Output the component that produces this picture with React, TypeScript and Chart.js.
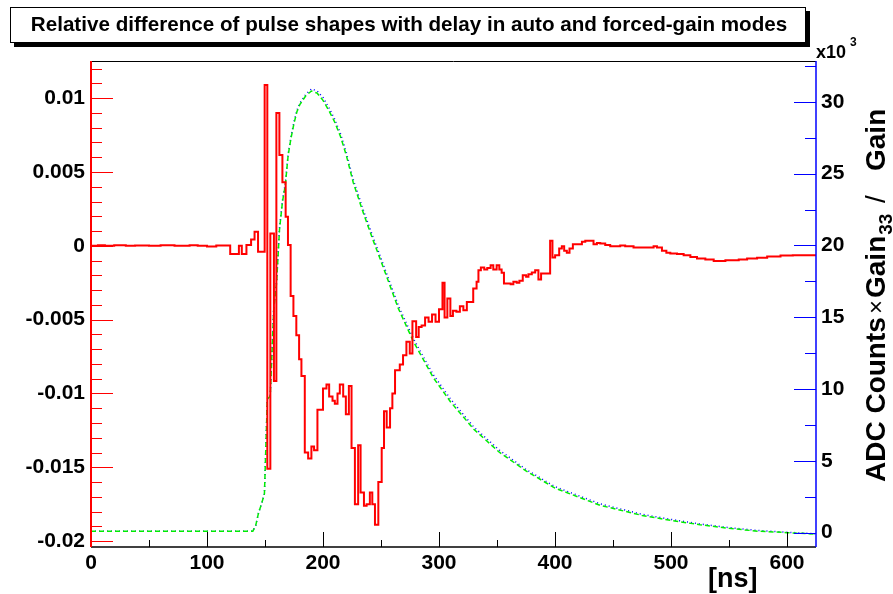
import { useEffect, useRef } from 'react';
import { Chart, registerables } from 'chart.js';

Chart.register(...registerables);

const FONT = '"Liberation Sans", Arial, Helvetica, sans-serif';
const TITLE = 'Relative difference of pulse shapes with delay in auto and forced-gain modes';

// Red histogram: bin start [ns] and relative difference (units of 1e-3)
const diffStartNs = [
  0, 6, 12, 20, 30, 38, 50, 60, 72, 85, 92, 100, 108, 112, 120, 127.5, 130, 134, 138, 141, 144,
  149.7, 152, 154.6, 157.7, 159.8, 162.4, 165, 167.8, 169.8, 172.1, 174.5, 177, 179.4, 181.4, 184.3,
  187.2, 190, 192.3, 195.2, 200, 203, 205.3, 208.2, 210.2, 212.5, 214.5, 217.4, 219.7, 222.3, 224.6,
  227.5, 230.3, 232.4, 235.3, 237.6, 240.4, 242.5, 244.8, 247.7, 250.6, 252.6, 254.9, 257.8, 259.8,
  262.1, 266.2, 269, 271.9, 274.8, 277.1, 280.3, 282.5, 285, 288, 291, 294, 297, 300, 303, 304.8,
  307.2, 309.8, 312, 315, 318, 321, 324, 329.5, 332.4, 334, 336.1, 339, 341.6, 344.5, 346.8, 349.7,
  352, 354, 356, 361.8, 364.1, 367, 369.3, 372.2, 375.1, 377.1, 380, 382.9, 385.7, 388, 395.8, 397.8,
  400.1, 403.6, 405.9, 407.9, 410.2, 412.5, 415.4, 423.2, 426.1, 433.2, 436.1, 439, 443.3, 447.6,
  456.2, 460.5, 467.7, 485, 487.9, 492.2, 496, 499.4, 505.2, 510.9, 516.7, 522.4, 529.6, 536.8,
  546.9, 558.4, 565.6, 574.2, 582.9, 594.4, 605, 615, 625,
];
const diffE3 = [
  0.03, 0.0, 0.04, 0.01, 0.04, 0.0, 0.03, 0.0, 0.04, 0.0, 0.04, 0.01, -0.05, 0.02, 0.03, -0.56, 0.0,
  -0.56, 0.05, 0.43, 0.95, -0.4, 10.9, -15.1, 0.84, -9.15, 9.0, 6.15, 4.3, 1.97, 0.05, -3.39, -4.75,
  -6.05, -7.68, -8.81, -14.0, -14.4, -13.6, -13.85, -11.1, -9.67, -9.4, -10.2, -10.5, -10.7, -10.0,
  -9.4, -10.2, -11.4, -9.5, -13.7, -17.5, -13.5, -16.7, -17.6, -17.5, -16.7, -17.5, -18.9, -16.0,
  -13.7, -11.2, -12.3, -11.0, -10.0, -8.43, -8.04, -7.41, -6.5, -7.3, -5.1, -6.17, -5.5, -5.4,
  -4.85, -5.15, -4.65, -5.15, -4.3, -2.5, -4.85, -3.57, -4.75, -4.4, -4.47, -4.1, -4.36, -3.8,
  -2.89, -2.44, -1.65, -1.47, -1.6, -1.5, -1.31, -1.6, -1.31, -1.6, -1.83, -2.55, -2.6, -2.44,
  -2.5, -2.36, -1.99, -2.1, -1.93, -1.8, -1.65, -2.28, -1.88, 0.34, -0.79, -0.63, -0.18, -0.02,
  -0.34, -0.47, -0.18, 0.11, 0.27, 0.34, 0.11, 0.2, 0.16, 0.05, -0.02, 0.02, -0.02, -0.11, -0.02,
  -0.11, -0.34, -0.47, -0.52, -0.56, -0.63, -0.75, -0.86, -0.93, -1.02, -0.97, -0.93, -0.86, -0.81,
  -0.72, -0.66, -0.63, -0.63,
];

// Pulse shapes: time [ns] and ADC counts x Gain33/Gain (units of 1e3)
const pulseNs = [
  0, 139.5, 142, 144.5, 147, 149.5, 152, 154.5, 157.5, 160, 162.5, 165, 167.5, 170, 172.5, 175,
  177.5, 180, 185, 190, 195, 200, 205, 210, 215, 220, 226, 235, 243, 250, 265, 278, 295, 310, 330,
  352, 375, 400, 439, 475, 500, 525, 550, 575, 600, 625,
];
const pulseGreenK = [
  0.1, 0.1, 0.5, 1.4, 2.0, 2.7, 9.3, 9.5, 15.5, 17.4, 21.1, 23.0, 24.2, 26.3, 27.5, 28.5, 29.3,
  29.8, 30.4, 30.75, 30.6, 30.1, 29.4, 28.6, 27.6, 26.3, 24.4, 22.2, 20.4, 18.9, 15.6, 13.3, 10.8,
  9.1, 7.2, 5.6, 4.3, 3.1, 1.9, 1.2, 0.85, 0.55, 0.3, 0.1, 0.0, -0.1,
];
const pulseBlueK = [
  0.1, 0.1, 0.5, 1.4, 2.0, 2.7, 9.3, 9.6, 15.6, 17.5, 21.2, 23.1, 24.3, 26.4, 27.6, 28.6, 29.4,
  29.9, 30.5, 30.9, 30.75, 30.3, 29.6, 28.8, 27.8, 26.5, 24.6, 22.4, 20.6, 19.1, 15.8, 13.5, 11.0,
  9.3, 7.35, 5.75, 4.4, 3.2, 2.0, 1.28, 0.92, 0.6, 0.35, 0.15, 0.03, -0.08,
];

const xTickValues = [0, 100, 200, 300, 400, 500, 600];
const leftTickValues = [-0.02, -0.015, -0.01, -0.005, 0, 0.005, 0.01];
const rightTickValues = [0, 5, 10, 15, 20, 25, 30];

function fmtLeft(v: number): string {
  const r = parseFloat(v.toFixed(3));
  if (Math.abs(r) < 1e-9) return '0';
  return String(r);
}

const rootDeco = {
  id: 'rootDeco',
  afterDraw(chart: any) {
    const { ctx, chartArea: a, scales } = chart;
    const xs = scales.x;
    const yl = scales.y;
    const yr = scales.y2;
    ctx.save();

    const seg = (x1: number, y1: number, x2: number, y2: number) => {
      ctx.beginPath();
      ctx.moveTo(x1, y1);
      ctx.lineTo(x2, y2);
      ctx.stroke();
    };

    // left axis ticks (red)
    ctx.strokeStyle = '#ff0000';
    ctx.lineWidth = 1;
    for (let i = -20; i <= 12; i++) {
      const py = Math.round(yl.getPixelForValue(i / 1000)) + 0.5;
      if (py < a.top || py > a.bottom) continue;
      seg(a.left, py, a.left + (i % 5 === 0 ? 22 : 11), py);
    }
    // right axis ticks (blue)
    ctx.strokeStyle = '#0000ff';
    for (let i = 0; i <= 13; i++) {
      const py = Math.round(yr.getPixelForValue(i * 2.5)) + 0.5;
      if (py < a.top || py > a.bottom) continue;
      seg(a.right, py, a.right - (i % 2 === 0 ? 22 : 11), py);
    }
    // x ticks (black)
    ctx.strokeStyle = '#000';
    for (let i = 0; i <= 12; i++) {
      const px = Math.round(xs.getPixelForValue(i * 50)) + 0.5;
      if (px < a.left || px > a.right) continue;
      seg(px, a.bottom, px, a.bottom - (i % 2 === 0 ? 15 : 7));
    }

    // frame
    ctx.strokeStyle = '#000';
    ctx.lineWidth = 1;
    seg(a.left, a.top + 0.5, a.right, a.top + 0.5);
    ctx.lineWidth = 1.5;
    seg(a.left, a.bottom, a.right, a.bottom);
    ctx.strokeStyle = '#ff0000';
    ctx.lineWidth = 2;
    seg(a.left, a.top, a.left, a.bottom);
    ctx.strokeStyle = '#0000ff';
    ctx.lineWidth = 1.5;
    seg(a.right, a.top, a.right, a.bottom);

    // title box with shadow
    ctx.fillStyle = '#000';
    ctx.fillRect(14, 11, 796, 36);
    ctx.fillStyle = '#fff';
    ctx.fillRect(10, 7, 796, 36);
    ctx.strokeStyle = '#000';
    ctx.lineWidth = 1;
    ctx.strokeRect(10.5, 7.5, 795, 35);
    ctx.fillStyle = '#000';
    ctx.font = `bold 17px ${FONT}`;
    const w = ctx.measureText(TITLE).width;
    const fs = 17 * 757 / w;
    ctx.font = `bold ${fs.toFixed(2)}px ${FONT}`;
    ctx.textAlign = 'center';
    ctx.textBaseline = 'middle';
    ctx.fillText(TITLE, 409, 25);

    // x10^3
    ctx.textAlign = 'left';
    ctx.textBaseline = 'alphabetic';
    ctx.font = `bold 18px ${FONT}`;
    ctx.fillText('x10', 816, 58);
    ctx.font = `bold 12px ${FONT}`;
    ctx.fillText('3', 850, 46);

    // x axis title
    ctx.font = `bold 27px ${FONT}`;
    ctx.fillText('[ns]', 708, 587);

    // right axis title (rotated)
    ctx.translate(885, 482);
    ctx.rotate(-Math.PI / 2);
    const B = `bold 28px ${FONT}`;
    ctx.font = B;
    ctx.fillText('ADC Counts', 0, 0);
    ctx.font = `24px ${FONT}`;
    ctx.fillText('\u00d7', 168, -1);
    ctx.font = B;
    ctx.fillText('Gain', 184, 0);
    const gw = ctx.measureText('Gain').width;
    ctx.font = `bold 19px ${FONT}`;
    ctx.fillText('33', 184 + gw + 1, 7);
    ctx.font = `28px ${FONT}`;
    ctx.fillText('/', 279, 0);
    ctx.font = B;
    ctx.fillText('Gain', 311, 0);

    ctx.restore();
  },
};

export default function App() {
  const ref = useRef<HTMLCanvasElement | null>(null);

  useEffect(() => {
    document.body.style.margin = '0';
    const canvas = ref.current;
    if (!canvas) return;

    const redPts = diffStartNs.map((x, i) => ({ x, y: diffE3[i] * 1e-3 }));
    const greenPts = pulseNs.map((x, i) => ({ x, y: pulseGreenK[i] }));
    const bluePts = pulseNs.map((x, i) => ({ x, y: pulseBlueK[i] }));
    const tickFont = { family: FONT, size: 21, weight: 'bold' as const };

    const chart = new Chart(canvas, {
      type: 'line',
      data: {
        datasets: [
          {
            data: redPts,
            yAxisID: 'y',
            borderColor: '#ff0000',
            borderWidth: 2,
            stepped: 'after',
            pointRadius: 0,
            fill: false,
          },
          {
            data: greenPts,
            yAxisID: 'y2',
            borderColor: '#00ee00',
            borderWidth: 1.5,
            borderDash: [5, 3],
            pointRadius: 0,
            fill: false,
            tension: 0,
          },
          {
            data: bluePts,
            yAxisID: 'y2',
            borderColor: '#0000ff',
            borderWidth: 1.5,
            borderDash: [1, 3],
            pointRadius: 0,
            fill: false,
            tension: 0,
          },
        ],
      },
      options: {
        animation: false,
        responsive: false,
        devicePixelRatio: 1,
        events: [],
        layout: { padding: { top: 61, left: 0, right: 0, bottom: 0 } },
        plugins: { legend: { display: false }, tooltip: { enabled: false }, title: { display: false } },
        scales: {
          x: {
            type: 'linear',
            position: 'bottom',
            min: 0,
            max: 625,
            grid: { display: false, drawTicks: false },
            border: { display: false },
            afterFit: (s: any) => { s.height = 47; },
            afterBuildTicks: (s: any) => { s.ticks = xTickValues.map((v) => ({ value: v })); },
            ticks: {
              font: tickFont,
              color: '#000',
              padding: 4,
              maxRotation: 0,
              autoSkip: false,
              callback: (v: any) => String(v),
            },
          },
          y: {
            type: 'linear',
            position: 'left',
            min: -0.0204,
            max: 0.01252,
            grid: { display: false, drawTicks: false },
            border: { display: false },
            afterFit: (s: any) => { s.width = 91; },
            afterBuildTicks: (s: any) => { s.ticks = leftTickValues.map((v) => ({ value: v })); },
            ticks: {
              font: tickFont,
              color: '#000',
              padding: 6,
              autoSkip: false,
              callback: (v: any) => fmtLeft(Number(v)),
            },
          },
          y2: {
            type: 'linear',
            position: 'right',
            min: -1.0,
            max: 32.84,
            grid: { display: false, drawTicks: false },
            border: { display: false },
            afterFit: (s: any) => { s.width = 77; },
            afterBuildTicks: (s: any) => { s.ticks = rightTickValues.map((v) => ({ value: v })); },
            ticks: {
              font: tickFont,
              color: '#000',
              padding: 5,
              autoSkip: false,
              callback: (v: any) => String(v),
            },
          },
        },
      },
      plugins: [rootDeco],
    });

    return () => chart.destroy();
  }, []);

  return (
    <canvas ref={ref} width={893} height={594} style={{ display: 'block', width: 893, height: 594 }} />
  );
}
